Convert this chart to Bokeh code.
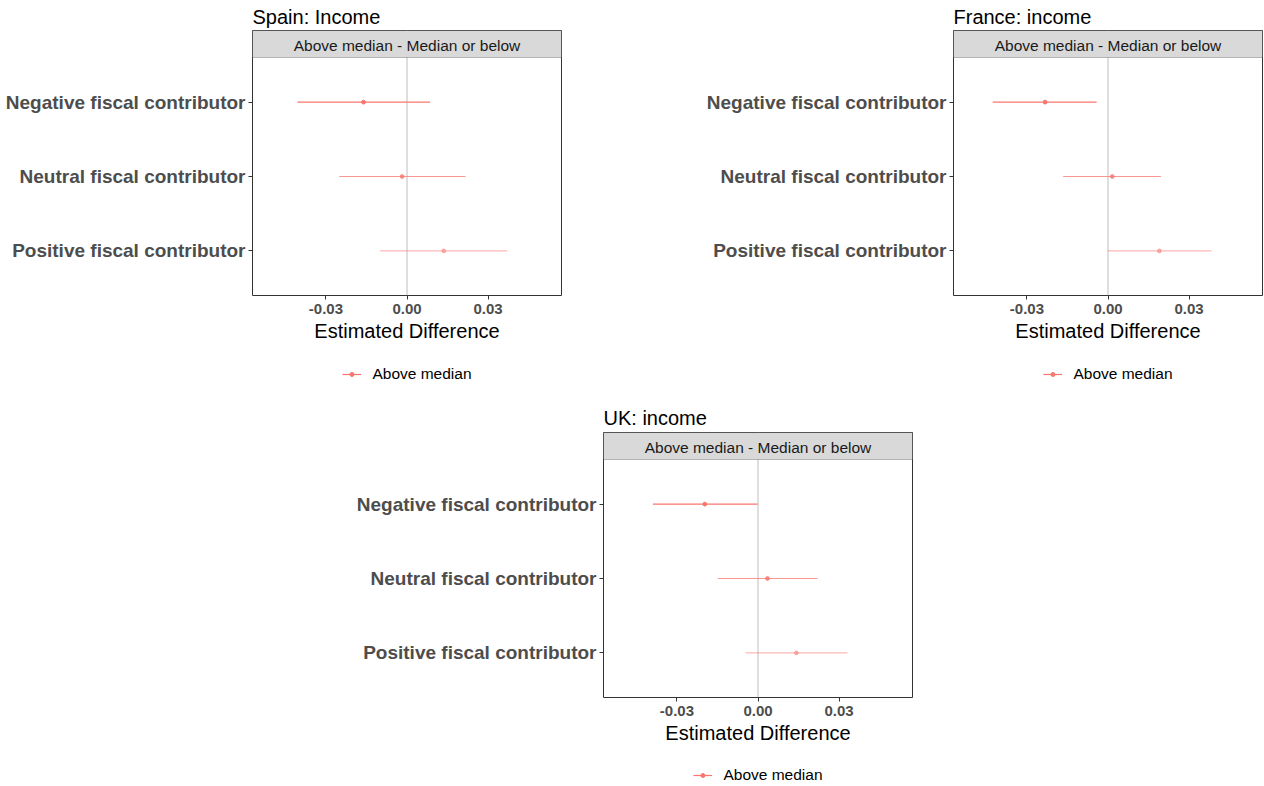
from bokeh.plotting import figure
from bokeh.models import (Range1d, FixedTicker, PrintfTickFormatter, Span, BoxAnnotation,
                          Label, Legend, LegendItem, ColumnDataSource, Spacer)
from bokeh.layouts import row, column
from bokeh.embed import file_html
from bokeh.resources import INLINE

# ---------------- data ----------------
categories = ["Negative fiscal contributor", "Neutral fiscal contributor", "Positive fiscal contributor"]
x_ticks = [-0.03, 0.0, 0.03]
strip_label = "Above median - Median or below"
legend_label = "Above median"
x_title = "Estimated Difference"

spain_title = "Spain: Income"
spain_est = [-0.0161, -0.0018, 0.0136]
spain_low = [-0.0406, -0.0251, -0.0099]
spain_high = [0.0085, 0.0217, 0.0371]

france_title = "France: income"
france_est = [-0.0233, 0.0016, 0.0190]
france_low = [-0.0427, -0.0166, -0.0001]
france_high = [-0.0042, 0.0196, 0.0383]

uk_title = "UK: income"
uk_est = [-0.0197, 0.0035, 0.0142]
uk_low = [-0.0389, -0.0149, -0.0046]
uk_high = [-0.0001, 0.0220, 0.0331]

# ---------------- style ----------------
RED = "#F8766D"
ALPHAS = [1.0, 0.75, 0.5]
FONT = "Liberation Sans"
FRAME_W, FRAME_H = 309, 265
X_LIM = 0.0572
Y_LO, Y_CAT_HI = 0.4, 3.6
STRIP_PX = 27


def style_points(p, src):
    seg = p.segment(x0="low", x1="high", y0="y", y1="y", source=src,
                    line_color=RED, line_alpha="alpha", line_width=1.2)
    pts = p.scatter(x="est", y="y", source=src, size=3.8, marker="circle",
                    fill_color=RED, line_color=RED, fill_alpha="alpha", line_alpha="alpha")
    return seg, pts


def make_panel(title, est, low, high, left, right, top, bottom, lg_top, lg_h, lg_bottom,
               title_standoff):
    n = len(categories)
    ys = [n - i for i in range(n)]
    px_per_unit = (FRAME_H - STRIP_PX) / (Y_CAT_HI - Y_LO)
    y_hi = Y_CAT_HI + STRIP_PX / px_per_unit

    src = ColumnDataSource(dict(y=ys, est=est, low=low, high=high, alpha=ALPHAS))
    p = figure(width=left + FRAME_W + right, height=top + FRAME_H + bottom,
               x_range=Range1d(-X_LIM, X_LIM), y_range=Range1d(Y_LO, y_hi),
               output_backend="svg", toolbar_location=None,
               min_border_left=left, min_border_right=right,
               min_border_top=top, min_border_bottom=bottom)
    p.background_fill_color = "white"
    p.border_fill_color = "white"
    p.outline_line_color = "#333333"
    p.outline_line_width = 1
    p.xgrid.visible = False
    p.ygrid.visible = False

    p.title.text = title
    p.title.text_font = FONT
    p.title.text_font_size = "20px"
    p.title.text_font_style = "normal"
    p.title.text_color = "black"
    p.title.align = "left"
    p.title.offset = 0
    p.title.standoff = title_standoff

    # zero reference line (under the strip)
    p.add_layout(Span(location=0, dimension="height", line_color="#BEBEBE",
                      line_width=1, level="underlay"))

    style_points(p, src)

    # strip header
    p.add_layout(BoxAnnotation(bottom=Y_CAT_HI, fill_color="#D9D9D9", fill_alpha=1,
                               line_color="#333333", line_width=1))
    p.add_layout(Label(x=0, y=(Y_CAT_HI + y_hi) / 2, y_offset=-1, text=strip_label,
                       text_align="center", text_baseline="middle",
                       text_font=FONT, text_font_size="15.5px", text_color="#1A1A1A"))

    # axes
    xa = p.xaxis[0]
    xa.ticker = FixedTicker(ticks=x_ticks)
    xa.formatter = PrintfTickFormatter(format="%.2f")
    xa.axis_line_color = None
    xa.major_tick_out = 4
    xa.major_tick_in = 0
    xa.minor_tick_line_color = None
    xa.major_tick_line_color = "#333333"
    xa.major_label_text_font = FONT
    xa.major_label_text_font_style = "bold"
    xa.major_label_text_font_size = "15px"
    xa.major_label_text_color = "#4D4D4D"
    xa.major_label_standoff = 4
    xa.axis_label = x_title
    xa.axis_label_text_font = FONT
    xa.axis_label_text_font_style = "normal"
    xa.axis_label_text_font_size = "20px"
    xa.axis_label_text_color = "black"
    xa.axis_label_standoff = 3

    ya = p.yaxis[0]
    ya.ticker = FixedTicker(ticks=ys)
    ya.major_label_overrides = {y: c for y, c in zip(ys, categories)}
    ya.axis_line_color = None
    ya.major_tick_out = 4
    ya.major_tick_in = 0
    ya.minor_tick_line_color = None
    ya.major_tick_line_color = "#333333"
    ya.major_label_text_font = FONT
    ya.major_label_text_font_style = "bold"
    ya.major_label_text_font_size = "19px"
    ya.major_label_text_color = "#4D4D4D"
    ya.major_label_standoff = 3

    # legend strip below the panel (same glyph styles, hidden renderers)
    lf = figure(width=left + FRAME_W + right, height=lg_top + lg_h + lg_bottom,
                x_range=Range1d(0, 1), y_range=Range1d(0, 1),
                output_backend="svg", toolbar_location=None,
                x_axis_location=None, y_axis_location=None,
                min_border_left=left, min_border_right=right,
                min_border_top=lg_top, min_border_bottom=lg_bottom)
    lf.outline_line_color = None
    lf.background_fill_color = "white"
    lf.border_fill_color = "white"
    lf.xgrid.visible = False
    lf.ygrid.visible = False
    seg2, pts2 = style_points(lf, src)
    seg2.visible = False
    pts2.visible = False
    legend = Legend(items=[LegendItem(label=legend_label, renderers=[seg2, pts2])],
                    orientation="horizontal", location="center",
                    border_line_color=None, background_fill_alpha=0,
                    label_text_font=FONT, label_text_font_size="15.5px",
                    label_text_color="black", glyph_width=19, glyph_height=10,
                    label_standoff=12, padding=0, margin=0)
    lf.add_layout(legend)
    return column(p, lf)


spain = make_panel(spain_title, spain_est, spain_low, spain_high,
                   left=252, right=39, top=30, bottom=60, lg_top=7, lg_h=24, lg_bottom=14,
                   title_standoff=6)
france = make_panel(france_title, france_est, france_low, france_high,
                    left=353, right=2, top=30, bottom=60, lg_top=7, lg_h=24, lg_bottom=14,
                    title_standoff=6)
uk = make_panel(uk_title, uk_est, uk_low, uk_high,
                left=303, right=10, top=32, bottom=58, lg_top=9, lg_h=22, lg_bottom=0,
                title_standoff=8)

layout = column(row(spain, france), row(Spacer(width=300, height=386), uk))

open("out.html", "w").write(file_html(layout, INLINE))
